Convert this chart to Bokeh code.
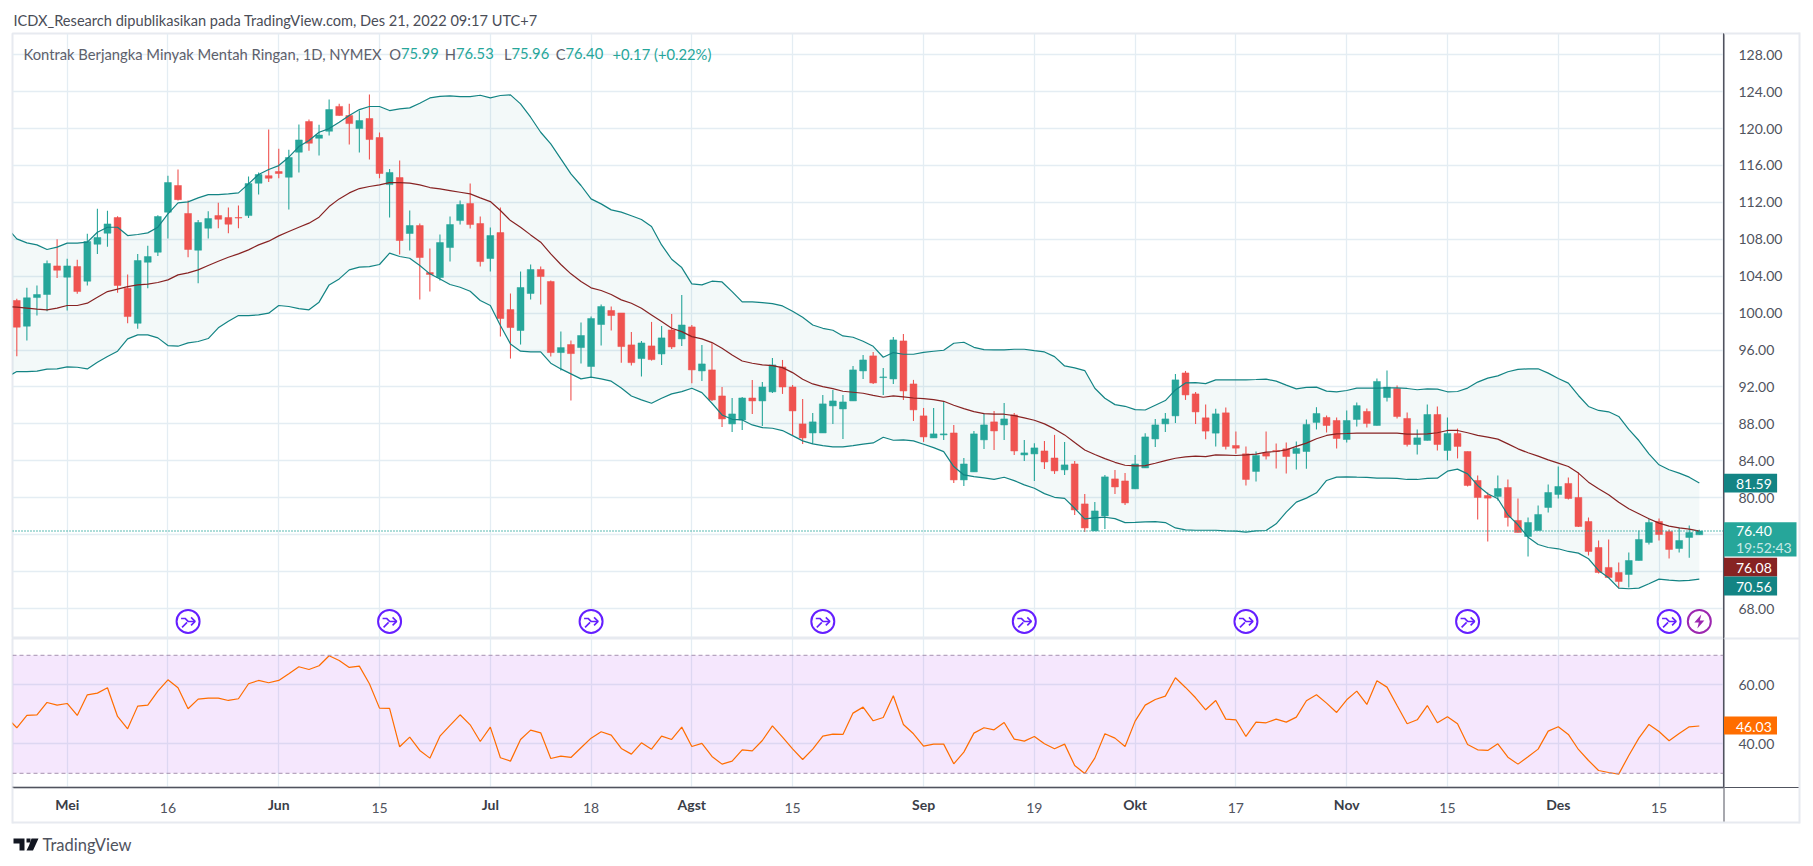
from bokeh.plotting import figure
from bokeh.layouts import column
from bokeh.models import (Label, Span, BoxAnnotation, PolyAnnotation, FixedTicker,
                          NumeralTickFormatter, Range1d)
from bokeh.embed import file_html
from bokeh.resources import INLINE

opens = [
 101.37,98.59,101.69,102.02,105.12,103.9,105.05,103.46,107.47,108.66,
 110.36,102.7,98.9,105.52,106.6,110.94,113.83,110.8,106.82,109.2,
 110.57,110.36,110.36,110.57,114.08,114.9,115.34,114.73,117.44,120.76,
 118.95,119.71,122.4,121.41,120.0,121.09,119.03,113.93,114.69,108.63,
 109.49,104.4,103.86,107.11,110.03,111.88,109.71,105.92,108.73,100.39,
 98.12,102.13,104.73,103.43,95.73,96.6,96.27,94.22,98.77,100.29,
 100.02,96.56,95.08,96.45,95.58,98.18,97.21,98.51,93.74,93.85,
 91.03,88.0,88.43,90.81,90.49,91.47,94.17,92.0,88.0,87.02,
 87.02,89.95,89.62,90.49,93.74,95.37,93.02,92.87,96.99,92.33,
 88.87,86.48,86.81,87.02,81.93,82.8,86.27,88.22,87.89,88.97,
 84.64,84.75,85.07,84.31,83.02,83.66,79.33,76.41,78.03,82.04,
 81.82,80.96,83.23,86.37,88.0,88.87,93.52,91.25,88.66,87.0,
 89.2,85.66,84.76,82.85,84.87,85.12,85.3,84.8,85.01,88.16,
 88.7,88.37,86.31,88.48,89.35,87.83,90.86,91.84,88.59,85.77,
 86.21,89.02,85.12,86.96,85.01,81.87,80.25,80.14,81.11,77.54,
 75.8,76.45,78.95,80.36,81.55,80.03,77.43,74.61,72.45,71.9,
 71.69,73.2,75.16,77.43,76.35,74.5,75.7,75.99]
closes = [
 98.48,101.66,102.02,105.38,104.65,105.12,102.34,107.76,108.2,109.67,
 103.0,99.63,105.7,106.13,110.47,114.15,112.3,106.9,109.82,110.25,
 110.18,109.64,110.3,114.04,115.02,114.62,115.13,116.86,118.77,118.41,
 119.3,122.06,121.41,120.54,120.87,118.81,115.13,115.24,107.87,109.49,
 106.03,104.19,107.65,109.6,111.77,109.6,105.59,108.41,99.42,98.44,
 102.78,104.73,103.97,95.73,96.27,95.62,97.58,99.42,100.72,99.74,
 96.38,94.64,96.77,94.97,97.32,96.34,98.72,93.85,94.5,90.6,
 88.54,89.08,90.81,90.49,92.0,94.39,92.0,89.41,86.48,88.22,
 90.17,90.49,90.38,93.85,94.93,92.44,93.09,97.1,91.57,89.52,
 86.59,86.92,86.92,81.93,83.66,86.92,87.89,87.24,88.54,85.07,
 84.86,85.4,83.88,82.91,83.56,78.68,76.73,78.57,82.26,81.17,
 79.44,83.66,86.59,87.89,88.54,92.77,91.14,89.3,87.22,89.09,
 85.56,85.37,81.98,84.58,84.51,85.01,84.47,85.34,87.94,89.13,
 87.83,86.42,88.37,89.98,88.05,92.6,91.98,88.8,85.77,86.49,
 89.02,85.77,86.96,85.56,81.33,80.03,79.96,81.0,77.86,76.24,
 77.32,78.19,80.57,81.22,79.92,76.89,74.18,71.9,71.36,70.93,
 73.2,75.48,77.32,76.02,74.4,75.37,76.24,76.40]
highs = [
 101.55,102.74,103.0,105.7,108.0,105.9,105.8,108.6,111.3,111.1,
 110.5,104.2,106.4,107.3,110.6,114.9,115.56,112.2,110.1,111.05,
 111.95,111.45,111.66,114.8,115.24,119.9,117.8,117.7,120.44,120.98,
 120.4,123.14,122.7,122.7,121.95,123.69,119.57,115.63,116.53,111.12,
 109.71,107.0,108.52,110.47,112.2,114.04,110.47,109.27,111.44,102.13,
 104.51,105.27,105.05,103.53,98.0,97.03,98.98,99.63,100.93,100.72,
 100.02,97.97,96.99,99.05,98.62,99.92,101.97,98.72,96.56,96.74,
 92.0,90.81,90.92,92.77,92.55,95.15,94.93,92.22,90.71,89.19,
 91.14,91.68,91.14,94.28,95.47,95.8,94.07,97.42,97.75,92.77,
 89.73,89.73,90.49,87.89,84.31,87.24,89.15,89.41,90.27,89.19,
 86.27,85.9,86.16,86.81,86.05,83.99,80.41,79.55,82.47,83.02,
 82.69,84.64,86.99,88.54,89.19,93.42,93.74,91.47,90.11,89.64,
 89.78,87.18,85.56,85.01,87.18,85.88,85.99,86.1,88.48,89.81,
 88.91,88.7,89.46,90.32,89.67,92.92,93.79,92.16,89.24,87.4,
 90.1,89.89,88.7,87.5,85.01,82.41,80.57,82.41,81.98,79.92,
 77.86,79.16,81.44,83.39,82.2,82.74,77.86,75.37,75.48,72.99,
 74.07,76.45,77.75,77.75,76.56,76.78,77.0,76.53]
lows = [
 95.33,97.03,99.74,100.2,103.8,100.3,102.1,103.0,106.4,107.2,
 102.2,98.9,98.3,102.7,106.2,108.1,112.2,106.06,103.24,108.1,
 109.2,108.66,109.2,110.3,112.85,114.2,114.62,111.23,115.24,117.6,
 117.08,119.24,121.4,118.27,117.4,116.64,114.62,110.36,106.35,106.78,
 101.48,102.34,103.53,105.59,109.6,109.17,105.05,104.5,97.47,95.08,
 96.6,101.48,100.93,95.3,93.78,90.53,94.54,93.06,96.49,98.12,
 94.64,94.32,93.13,94.86,94.39,96.12,96.45,92.4,92.66,90.49,
 87.67,87.13,87.35,89.08,87.78,91.36,91.25,86.7,85.83,85.83,
 87.02,88.0,86.37,90.49,92.87,92.33,91.14,92.33,90.6,88.32,
 86.05,86.48,86.27,81.61,81.28,82.8,85.29,85.18,86.27,84.64,
 83.99,81.82,83.12,82.58,82.47,78.14,76.3,76.41,76.62,80.41,
 79.22,80.96,83.23,85.51,87.13,88.11,90.6,88.0,86.35,85.56,
 85.23,84.76,81.33,81.76,84.15,83.17,82.63,83.06,83.15,87.4,
 87.07,85.34,85.99,87.72,87.61,87.83,90.43,88.59,85.56,84.69,
 86.21,85.12,84.04,84.26,81.22,77.65,75.26,79.71,76.89,76.24,
 73.64,76.45,78.4,79.92,79.81,76.82,73.75,71.8,71.36,70.17,
 70.28,73.2,74.94,75.37,73.42,74.07,73.5,75.96]

# Bollinger and RSI series start one bar before the first visible candle
bb_upper = [
 109.3,
 108.05,107.62,107.4,106.9,107.15,107.59,107.59,107.69,108.77,109.31,
 109.31,108.41,108.52,108.7,109.31,110.76,111.95,112.06,112.49,112.85,
 112.85,112.92,113.03,114.01,115.02,115.56,115.99,116.9,118.05,118.7,
 119.6,120.0,120.69,121.41,122.06,122.39,122.39,121.95,122.13,122.24,
 122.75,123.32,123.49,123.54,123.47,123.47,123.61,123.32,123.58,123.65,
 122.67,121.23,119.6,118.34,116.71,115.09,113.83,112.38,111.84,111.19,
 110.94,110.55,110.15,109.38,107.39,105.84,104.94,103.17,103.06,103.46,
 103.38,102.34,101.22,101.22,101.14,101.04,100.78,100.2,99.55,98.72,
 98.36,98.15,97.53,97.39,96.95,96.41,95.22,95.73,95.55,95.55,
 95.76,95.87,95.98,96.74,96.85,96.3,96.05,96.02,96.02,96.09,
 96.09,95.94,95.8,95.29,94.28,94.07,93.78,91.86,90.78,90.09,
 89.91,89.55,89.51,90.02,90.53,91.68,92.44,92.48,92.37,92.77,
 92.78,92.78,92.78,92.81,92.85,92.63,92.2,91.8,91.95,91.98,
 91.55,91.48,91.62,91.88,91.88,91.88,91.91,91.91,91.84,91.7,
 91.8,91.77,91.48,91.51,91.88,92.53,92.96,93.21,93.65,93.9,
 93.97,93.97,93.5,92.92,92.42,91.08,89.89,89.46,89.31,88.81,
 87.4,86.2,84.76,83.57,83.03,82.67,82.23,81.59]
bb_lower = [
 93.06,
 93.67,93.67,93.71,93.93,93.96,94.18,94.14,93.96,94.69,95.3,
 95.88,97.21,97.65,97.65,97.32,96.49,96.42,96.78,96.93,97.25,
 98.41,99.13,99.74,99.74,99.81,100.0,100.83,100.72,100.5,100.36,
 101.19,103.06,103.71,104.69,104.98,105.05,105.27,106.5,106.14,105.95,
 105.16,104.26,103.71,103.1,102.81,102.38,101.37,100.83,98.66,96.67,
 95.88,95.81,95.81,94.58,93.96,93.42,92.88,93.06,92.88,92.63,
 91.9,91.03,90.6,90.24,90.78,91.25,91.5,91.86,91.39,90.24,
 88.97,88.5,88.43,87.89,87.6,87.53,87.28,86.73,86.16,85.83,
 85.65,85.51,85.51,85.65,85.8,85.94,86.55,86.23,86.26,86.16,
 85.8,85.43,85.0,83.38,82.47,82.29,82.15,82.0,82.22,81.86,
 81.39,81.03,80.45,80.05,79.94,78.86,77.71,77.81,77.89,77.74,
 77.31,77.34,77.38,77.42,77.31,76.73,76.51,76.48,76.48,76.48,
 76.42,76.38,76.28,76.42,76.45,77.18,78.44,79.52,79.96,80.54,
 81.87,82.23,82.27,82.23,82.2,82.12,82.12,82.09,81.98,81.98,
 82.09,82.12,82.88,83.1,82.59,81.33,80.43,79.89,78.15,77.07,
 75.73,74.94,74.61,74.47,74.18,74.0,73.39,72.12,71.33,70.21,
 70.14,70.21,70.68,71.18,71.07,71.0,71.04,71.18]
bb_basis = [
 100.7,
 100.65,100.54,100.43,100.36,100.54,100.83,100.83,101.08,101.73,102.34,
 102.6,102.88,103.06,103.14,103.32,103.61,104.15,104.37,104.69,105.16,
 105.63,106.06,106.42,106.86,107.4,107.8,108.37,108.84,109.31,109.75,
 110.4,111.55,112.38,113.03,113.5,113.72,113.9,114.15,114.15,114.08,
 113.9,113.61,113.46,113.28,113.1,112.92,112.49,112.09,111.12,110.03,
 109.31,108.48,107.69,106.42,105.27,104.26,103.43,102.74,102.45,102.02,
 101.44,101.07,100.53,99.81,99.09,98.36,98.0,97.46,97.21,96.81,
 96.2,95.47,94.82,94.57,94.39,94.32,94.1,93.56,92.84,92.33,
 92.04,91.83,91.54,91.43,91.32,91.1,90.89,91.03,90.92,90.81,
 90.74,90.63,90.45,90.02,89.66,89.33,89.12,89.05,89.05,88.9,
 88.65,88.4,88.0,87.46,86.81,85.98,85.18,84.68,84.24,83.84,
 83.52,83.45,83.48,83.74,84.03,84.28,84.42,84.5,84.46,84.64,
 84.62,84.58,84.65,84.73,84.94,85.01,85.19,85.56,85.92,86.39,
 86.75,86.93,86.96,87.0,87.0,87.0,87.0,87.0,86.89,86.89,
 86.93,87.04,87.29,87.29,87.04,86.75,86.57,86.35,85.84,85.3,
 84.87,84.51,84.11,83.75,83.39,82.67,81.69,80.97,80.32,79.52,
 78.8,78.26,77.72,77.25,76.92,76.74,76.6,76.38]
rsi = [
 49.0,
 45.43,49.61,49.83,54.01,53.11,53.67,49.61,56.61,57.18,58.99,
 49.27,45.09,52.77,53.11,57.85,61.7,58.99,51.87,55.14,55.48,
 55.48,54.69,55.26,60.34,61.47,60.68,61.47,63.73,66.1,65.18,
 66.44,69.83,68.25,65.88,66.33,60.34,52.09,51.98,38.99,42.26,
 37.74,35.14,42.6,46.22,49.83,46.44,40.79,45.65,35.26,34.13,
 41.47,44.63,43.73,35.03,35.82,35.37,38.65,41.92,44.07,42.94,
 38.42,36.5,40.34,38.19,42.6,41.47,45.65,39.1,40.12,35.71,
 33.11,34.13,37.97,37.63,41.13,46.1,42.26,38.31,34.69,38.19,
 42.6,43.28,43.17,50.4,52.43,47.8,48.93,56.27,
 46.56,43.39,39.21,39.89,39.89,33.22,37.18,43.62,45.43,44.75,47.23,
 41.59,40.91,42.49,40.0,38.31,39.89,32.66,29.95,35.14,43.39,
 41.92,39.1,47.69,53.11,55.03,56.16,62.38,59.1,55.6,51.53,
 54.69,48.36,48.14,42.49,47.35,47.12,48.36,47.35,49.04,54.58,
 56.61,53.79,50.62,54.92,57.85,53.34,61.36,59.21,52.97,46.78,
 48.14,52.97,47.12,49.15,46.78,39.78,37.97,37.74,40.0,35.48,
 33.11,35.6,38.19,44.3,45.76,43.17,38.08,34.35,30.96,30.28,
 29.72,36.05,41.92,46.56,44.18,41.02,43.5,45.76,46.03]

price_ticks = [128, 124, 120, 116, 112, 108, 104, 100, 96, 92, 88, 84, 80, 68]
price_grid = list(range(68, 132, 4))
rsi_ticks = [40, 60]
day_ticks = {15: "16", 36: "15", 57: "18", 77: "15", 101: "19", 121: "17", 142: "15", 163: "15"}
month_ticks = {5: "Mei", 26: "Jun", 47: "Jul", 67: "Agst", 90: "Sep", 111: "Okt", 132: "Nov", 153: "Des"}
event_bars = [17, 37, 57, 80, 100, 122, 144, 164]
flash_bar = [167]

GREEN, RED = "#26a69a", "#ef5350"
BAND, BASIS, ORANGE = "#138484", "#872323", "#ff6d00"
GRID = "#e4edf3"
EDGE = "#e7eaf0"
TXT = "#50535e"
FONT = "Lato"
XR = (-0.427, 169.4)

assert len(opens) == len(closes) == len(highs) == len(lows) == 168
assert len(bb_upper) == len(bb_lower) == len(bb_basis) == len(rsi) == 169

idx = list(range(168))
line_idx = list(range(-1, 168))
colors = [GREEN if c >= o else RED for o, c in zip(opens, closes)]
body_top = [max(o, c) for o, c in zip(opens, closes)]
body_bot = [min(o, c) for o, c in zip(opens, closes)]

W = 1805
# ---------- price pane
p = figure(width=W, height=638, output_backend="svg", toolbar_location=None,
           x_range=Range1d(*XR), y_range=Range1d(64.75, 130.3),
           min_border_left=12, min_border_top=33, min_border_bottom=0, min_border_right=82,
           x_axis_location=None, y_axis_location="right", background_fill_color="white")
p.outline_line_color = EDGE
p.outline_line_width = 2
ax = p.yaxis[0]
ax.ticker = FixedTicker(ticks=price_ticks)
ax.formatter = NumeralTickFormatter(format="0.00")
ax.major_tick_line_color = None
ax.minor_tick_line_color = None
ax.axis_line_color = TXT
ax.major_label_standoff = 9
ax.major_label_text_color = TXT
ax.major_label_text_font = FONT
ax.major_label_text_font_size = "14px"
p.ygrid[0].ticker = FixedTicker(ticks=price_grid)
p.xgrid[0].ticker = FixedTicker(ticks=list(day_ticks) + list(month_ticks))
for g in (p.xgrid[0], p.ygrid[0]):
    g.grid_line_color = GRID
    g.grid_line_width = 1.3

p.varea(line_idx, bb_lower, bb_upper, fill_color=BAND, fill_alpha=0.05)
p.add_layout(Span(location=closes[-1], dimension="width", line_color=GREEN,
                  line_dash="1 2", line_width=1.3))
p.segment(idx, lows, idx, highs, line_color=colors, line_width=1.1)
p.vbar(idx, 0.68, body_top, body_bot, fill_color=colors, line_color=colors, line_width=0.5)
p.line(line_idx, bb_upper, line_color=BAND, line_width=1.2)
p.line(line_idx, bb_lower, line_color=BAND, line_width=1.2)
p.line(line_idx, bb_basis, line_color=BASIS, line_width=1.2)

# event markers along the pane bottom
EVY = 66.6
PX, PY = 10.075, 9.23
p.scatter(event_bars, [EVY] * len(event_bars), marker="circle", size=23, fill_color="white",
          line_color="#651fff", line_width=2)
arrow_parts = [[(-7, 3), (-3, 3), (0, 0), (7, 0)], [(-6, -6), (-1, -1)], [(3, 4), (7, 0), (3, -4)]]
mx, my = [], []
for b in event_bars:
    for part in arrow_parts:
        mx.append([b + a / PX for a, _ in part])
        my.append([EVY + c / PY for _, c in part])
p.multi_line(mx, my, line_color="#651fff", line_width=1.6)
p.scatter(flash_bar, [EVY], marker="circle", size=23, fill_color="white",
          line_color="#9c27b0", line_width=2)
bolt = [(2, 7), (-5, -1), (-0.5, -1), (-2, -7), (5, 1), (0.5, 1)]
p.patch([flash_bar[0] + a / PX for a, b in bolt], [EVY + b / PY for a, b in bolt],
        fill_color="#9c27b0", line_color=None)

# ---------- RSI + time axis: canvas starts at page y 638
r = figure(width=W, height=222, output_backend="svg", toolbar_location=None,
           x_range=p.x_range, y_range=Range1d(25.19, 75.69),
           min_border_left=12, min_border_top=0, min_border_bottom=73, min_border_right=82,
           x_axis_location="below", y_axis_location="right", background_fill_color="white")
r.outline_line_color = EDGE
r.outline_line_width = 2
ay = r.yaxis[0]
ay.ticker = FixedTicker(ticks=rsi_ticks)
ay.formatter = NumeralTickFormatter(format="0.00")
ay.major_tick_line_color = None
ay.minor_tick_line_color = None
ay.axis_line_color = TXT
ay.major_label_standoff = 9
ay.major_label_text_color = TXT
ay.major_label_text_font = FONT
ay.major_label_text_font_size = "14px"
ax2 = r.xaxis[0]
ax2.ticker = FixedTicker(ticks=list(day_ticks))
ax2.major_label_overrides = day_ticks
ax2.major_tick_line_color = None
ax2.minor_tick_line_color = None
ax2.axis_line_color = TXT
ax2.axis_line_width = 1.3
ax2.major_label_standoff = 9
ax2.major_label_text_color = TXT
ax2.major_label_text_font = FONT
ax2.major_label_text_font_size = "14px"
r.ygrid[0].ticker = FixedTicker(ticks=rsi_ticks)
r.xgrid[0].ticker = FixedTicker(ticks=list(day_ticks) + list(month_ticks))
for g in (r.xgrid[0], r.ygrid[0]):
    g.grid_line_color = GRID
    g.grid_line_width = 1.3
r.add_layout(BoxAnnotation(top=70, bottom=30, fill_color="#a020f0", fill_alpha=0.11, line_color=None,
                           level="underlay"))
for lv in (70, 30):
    r.add_layout(Span(location=lv, dimension="width", line_color="#a592b0", line_dash="4 3", line_width=1))
r.line(line_idx, rsi, line_color=ORANGE, line_width=1.2)

# ---------- transparent sheet over the whole page for texts, tags and frame parts outside the panes
o = figure(width=W, height=860, output_backend="svg", toolbar_location=None,
           x_range=Range1d(0, W), y_range=Range1d(860, 0),
           min_border_left=0, min_border_top=0, min_border_bottom=0, min_border_right=0,
           x_axis_location=None, y_axis_location=None,
           background_fill_color=None, border_fill_color=None,
           styles={"position": "absolute", "left": "0px", "top": "0px", "pointer-events": "none"})
o.outline_line_color = None
o.grid.visible = False


def txt(x, y, s, color=TXT, size="14px", style="normal", anchor="left", **kw):
    o.add_layout(Label(x=x, y=y, x_units="canvas", y_units="canvas", text=s, text_color=color,
                       text_font=FONT, text_font_size=size, text_font_style=style, text_align=anchor,
                       text_baseline="middle", **kw))


def bar(l, rr, t, b, color):
    o.add_layout(BoxAnnotation(left=l, right=rr, top=t, bottom=b, left_units="canvas", right_units="canvas",
                               top_units="canvas", bottom_units="canvas", fill_color=color, fill_alpha=1,
                               line_color=None))


# frame parts
bar(1723, 1724, 33, 822, TXT)
bar(1724, 1799, 786.5, 787.5, TXT)
bar(12, 1799, 821, 823, EDGE)
bar(11, 13, 787, 823, EDGE)
bar(1798, 1800, 32, 823, EDGE)
bar(1724, 1799, 32, 34, EDGE)
bar(1724, 1799, 637, 639, EDGE)

# header texts
txt(13, 20, "ICDX_Research dipublikasikan pada TradingView.com, Des 21, 2022 09:17 UTC+7",
    color="#4a4d57", size="14.6px")
txt(23, 53, "Kontrak Berjangka Minyak Mentah Ringan, 1D, NYMEX", size="14.75px", color="#5d606b")
for x0, a, b in [(400.5, "O", "75.99"), (455.5, "H", "76.53"), (511, "L", "75.96"), (565, "C", "76.40")]:
    txt(x0, 53, a, size="14.75px", color="#5d606b", anchor="right")
    txt(x0, 53, b, size="14.75px", color=GREEN)
txt(612, 53, "+0.17 (+0.22%)", size="14.75px", color=GREEN)

# price tags right of the axis
for top, bot, y, s, bg in [(473.3, 492, 483.3, "81.59", BAND), (557.3, 576, 567.3, "76.08", BASIS),
                           (576, 595, 586, "70.56", BAND)]:
    bar(1723.5, 1776.6, top, bot, bg)
    txt(1735.5, y, s, color="white")
bar(1723.5, 1796, 521.7, 556, GREEN)
txt(1735.5, 530.7, "76.40", color="white")
txt(1735.5, 547.3, "19:52:43", color="#c9e9e6")
bar(1723.5, 1776.5, 716, 734, ORANGE)
txt(1735.5, 726, "46.03", color="white")

# month names on the time axis
for b, s in month_ticks.items():
    txt(12 + (b - XR[0]) * 1711 / (XR[1] - XR[0]), 804, s, color="#3a3d47", style="bold", anchor="center")

# footer logo and name
logo = "#131722"
for xs, ys in [([13, 24, 24, 19, 19, 13], [838, 838, 850, 850, 843, 843]),
               ([31, 38, 32.5, 26, 28.5], [838, 838, 850, 850, 845])]:
    o.add_layout(PolyAnnotation(xs=xs, ys=ys, xs_units="canvas", ys_units="canvas",
                                fill_color=logo, fill_alpha=1, line_color=None))
bar(26, 30, 838, 842, logo)
txt(42, 844, "TradingView", color=TXT, size="16.5px")

page = column(p, r, spacing=0)
open("out.html", "w").write(file_html([page, o], INLINE))
